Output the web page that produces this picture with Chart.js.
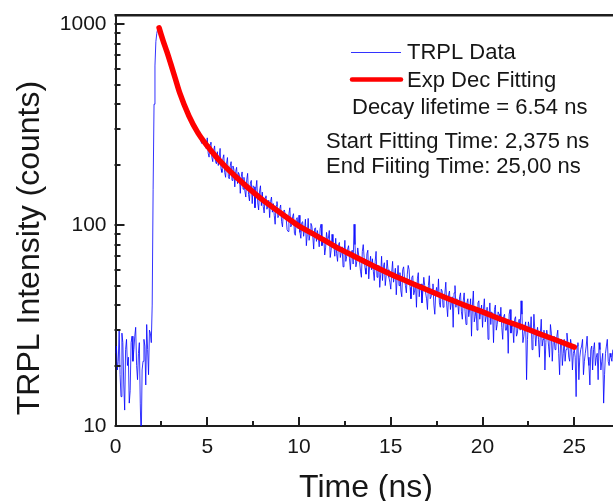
<!DOCTYPE html>
<html>
<head>
<meta charset="utf-8">
<script src="https://cdn.jsdelivr.net/npm/chart.js@4.4.1/dist/chart.umd.min.js"></script>
<style>
  html, body { margin: 0; padding: 0; background: #fff; }
  #wrap { width: 613px; height: 501px; }
</style>
</head>
<body>
<div id="wrap"><canvas id="graficaTRPL" width="613" height="501"></canvas></div>
<script>
// tiempo (ns) de cada canal
const tiempo = [
  0,0.05,0.1,0.15,0.2,0.25,0.3,0.35,0.4,0.45,0.5,0.55,0.6,0.65,0.7,0.75,0.8,0.85,0.9,0.95,
  1,1.05,1.1,1.15,1.2,1.25,1.3,1.35,1.4,1.45,1.5,1.55,1.6,1.65,1.7,1.75,1.8,1.85,1.9,1.95,
  2,2.05,2.1,2.15,2.2,2.25,2.3,2.35,2.4,2.45,2.5,2.55,2.6,2.65,2.7,2.75,2.8,2.85,2.9,2.95,
  3,3.05,3.1,3.15,3.2,3.25,3.3,3.35,3.4,3.45,3.5,3.55,3.6,3.65,3.7,3.75,3.8,3.85,3.9,3.95,
  4,4.05,4.1,4.15,4.2,4.25,4.3,4.35,4.4,4.45,4.5,4.55,4.6,4.65,4.7,4.75,4.8,4.85,4.9,4.95,
  5,5.05,5.1,5.15,5.2,5.25,5.3,5.35,5.4,5.45,5.5,5.55,5.6,5.65,5.7,5.75,5.8,5.85,5.9,5.95,
  6,6.05,6.1,6.15,6.2,6.25,6.3,6.35,6.4,6.45,6.5,6.55,6.6,6.65,6.7,6.75,6.8,6.85,6.9,6.95,
  7,7.05,7.1,7.15,7.2,7.25,7.3,7.35,7.4,7.45,7.5,7.55,7.6,7.65,7.7,7.75,7.8,7.85,7.9,7.95,
  8,8.05,8.1,8.15,8.2,8.25,8.3,8.35,8.4,8.45,8.5,8.55,8.6,8.65,8.7,8.75,8.8,8.85,8.9,8.95,
  9,9.05,9.1,9.15,9.2,9.25,9.3,9.35,9.4,9.45,9.5,9.55,9.6,9.65,9.7,9.75,9.8,9.85,9.9,9.95,
  10,10.05,10.1,10.15,10.2,10.25,10.3,10.35,10.4,10.45,10.5,10.55,10.6,10.65,10.7,10.75,10.8,10.85,10.9,10.95,
  11,11.05,11.1,11.15,11.2,11.25,11.3,11.35,11.4,11.45,11.5,11.55,11.6,11.65,11.7,11.75,11.8,11.85,11.9,11.95,
  12,12.05,12.1,12.15,12.2,12.25,12.3,12.35,12.4,12.45,12.5,12.55,12.6,12.65,12.7,12.75,12.8,12.85,12.9,12.95,
  13,13.05,13.1,13.15,13.2,13.25,13.3,13.35,13.4,13.45,13.5,13.55,13.6,13.65,13.7,13.75,13.8,13.85,13.9,13.95,
  14,14.05,14.1,14.15,14.2,14.25,14.3,14.35,14.4,14.45,14.5,14.55,14.6,14.65,14.7,14.75,14.8,14.85,14.9,14.95,
  15,15.05,15.1,15.15,15.2,15.25,15.3,15.35,15.4,15.45,15.5,15.55,15.6,15.65,15.7,15.75,15.8,15.85,15.9,15.95,
  16,16.05,16.1,16.15,16.2,16.25,16.3,16.35,16.4,16.45,16.5,16.55,16.6,16.65,16.7,16.75,16.8,16.85,16.9,16.95,
  17,17.05,17.1,17.15,17.2,17.25,17.3,17.35,17.4,17.45,17.5,17.55,17.6,17.65,17.7,17.75,17.8,17.85,17.9,17.95,
  18,18.05,18.1,18.15,18.2,18.25,18.3,18.35,18.4,18.45,18.5,18.55,18.6,18.65,18.7,18.75,18.8,18.85,18.9,18.95,
  19,19.05,19.1,19.15,19.2,19.25,19.3,19.35,19.4,19.45,19.5,19.55,19.6,19.65,19.7,19.75,19.8,19.85,19.9,19.95,
  20,20.05,20.1,20.15,20.2,20.25,20.3,20.35,20.4,20.45,20.5,20.55,20.6,20.65,20.7,20.75,20.8,20.85,20.9,20.95,
  21,21.05,21.1,21.15,21.2,21.25,21.3,21.35,21.4,21.45,21.5,21.55,21.6,21.65,21.7,21.75,21.8,21.85,21.9,21.95,
  22,22.05,22.1,22.15,22.2,22.25,22.3,22.35,22.4,22.45,22.5,22.55,22.6,22.65,22.7,22.75,22.8,22.85,22.9,22.95,
  23,23.05,23.1,23.15,23.2,23.25,23.3,23.35,23.4,23.45,23.5,23.55,23.6,23.65,23.7,23.75,23.8,23.85,23.9,23.95,
  24,24.05,24.1,24.15,24.2,24.25,24.3,24.35,24.4,24.45,24.5,24.55,24.6,24.65,24.7,24.75,24.8,24.85,24.9,24.95,
  25,25.05,25.1,25.15,25.2,25.25,25.3,25.35,25.4,25.45,25.5,25.55,25.6,25.65,25.7,25.75,25.8,25.85,25.9,25.95,
  26,26.05,26.1,26.15,26.2,26.25,26.3,26.35,26.4,26.45,26.5,26.55,26.6,26.65,26.7,26.75,26.8,26.85,26.9,26.95,
  27,27.05,27.1
];
// cuentas TRPL
const intensidad = [
  23,25,19,21,30,18,14,29,26,16,12,24,27,20,22,13,15,26,28,21,
  24,28,31,20,17,23,26,13,8,19,21,27,25,16,32,24,18,30,29,26,
  40,150,400,620,820,900,950,960,930,905,885,860,832,800,768,752,740,705,680,668,
  650,608,592,565,569,553,521,497,500,489,472,440,430,436,422,392,398,389,365,352,
  363,349,330,318,336,327,300,296,309,282,282,290,292,262,255,276,273,249,246,240,
  272,228,218,253,259,218,207,236,248,207,202,232,198,218,241,190,183,214,224,183,
  173,203,217,174,170,197,207,167,197,190,155,185,194,161,183,178,144,174,184,151,
  173,148,138,168,181,142,132,162,167,128,157,155,122,152,167,129,119,148,157,125,
  146,124,115,137,140,120,124,133,109,131,138,116,128,112,101,125,131,109,112,121,
  126,104,98,117,119,113,108,95,93,114,122,98,100,110,114,91,89,107,109,96,
  112,92,86,103,104,88,95,107,79,90,108,84,90,102,99,88,76,96,97,83,
  94,88,78,96,101,79,83,87,71,77,92,84,86,94,69,75,90,82,80,70,
  86,72,66,80,82,69,73,78,62,71,84,66,70,76,79,68,60,73,75,64,
  101,80,62,66,77,71,66,59,55,74,80,69,61,57,72,75,54,63,70,60,
  68,59,53,66,74,55,58,63,49,57,70,53,62,65,50,56,67,60,55,52,
  48,58,66,52,56,61,45,55,63,50,58,47,44,60,62,54,50,46,57,63,
  60,49,43,55,56,45,47,52,39,54,58,44,50,51,41,47,55,50,46,43,
  38,50,56,43,44,48,51,40,36,46,49,44,54,41,39,48,47,39,42,46,
  52,40,35,45,47,38,41,44,31,46,50,39,43,41,36,44,46,37,34,42,
  46,37,32,41,43,35,38,43,28,40,47,33,35,39,30,41,42,34,37,40,
  31,38,43,33,35,39,27,35,41,32,37,36,26,38,40,30,32,37,36,33,
  39,31,27,35,36,30,30,34,23,36,38,29,33,31,26,34,35,28,29,33,
  34,30,42,36,26,28,31,33,17,27,33,31,29,35,24,27,36,30,25,29,
  31,27,22,29,34,25,27,30,19,26,30,28,25,22,32,29,21,26,28,24,
  25,28,30,23,18,26,27,20,23,27,21,24,29,26,22,21,27,25,19,23,
  24,22,14,25,26,17,22,24,25,27,18,21,23,25,28,22,20,16,24,25,
  19,24,26,20,22,23,17,26,24,19,21,23,13,18,23,25,27,21,20,23,
  22,21,24
];
// curva de ajuste exponencial (de 2,375 ns a 25 ns)
const ajusteX = [2.375,2.5,2.6,2.8,3,3.25,3.5,4,4.5,5,5.5,6,6.5,7,7.5,8,9,10,11,12,13,14,15,16,17,18,19,20,21,22,23,24,25];
const ajusteY = [960,880,825,730,640,540,455,350,287,248,218,195,176,160,146,134,115,99,88,78,70,63,57,52,47.5,43.5,40,37,34,31.5,29,26.8,24.7];

const xTicks = [0,5,10,15,20,25];
const xMinor = [2.5,7.5,12.5,17.5,22.5];
const yTicks = [10,100,1000];
const yMinor = [20,30,40,50,60,70,80,90,200,300,400,500,600,700,800,900];

const notas = ["Decay lifetime = 6.54 ns", "Start Fitting Time: 2,375 ns", "End Fiiting Time: 25,00 ns"];

const fuente = "'Liberation Sans', Arial, sans-serif";
const tinta = "#161616";

const marcas = {
  id: "marcas",
  afterDraw(chart) {
    const c = chart.ctx;
    const a = chart.chartArea;
    const sx = chart.scales.x, sy = chart.scales.y;
    c.save();
    c.fillStyle = "#1e1e1e";
    // marco superior
    c.fillRect(a.left - 1, a.top - 1, a.right - a.left + 1, 2.5);
    // ticks hacia adentro
    yTicks.forEach(v => { const p = Math.round(sy.getPixelForValue(v)); c.fillRect(a.left - 1, p - 1, 10, 2); });
    yMinor.forEach(v => { const p = Math.round(sy.getPixelForValue(v)); c.fillRect(a.left - 1, p - 1, 6, 2); });
    xTicks.forEach(v => { const p = Math.round(sx.getPixelForValue(v)); c.fillRect(p - 1, a.bottom - 9, 2, 10); });
    xMinor.forEach(v => { const p = Math.round(sx.getPixelForValue(v)); c.fillRect(p - 1, a.bottom - 5, 2, 6); });

    // leyenda
    const ds = chart.data.datasets;
    c.strokeStyle = ds[1].borderColor; c.lineWidth = 1; c.lineCap = "butt";
    c.beginPath(); c.moveTo(351, 52.5); c.lineTo(401, 52.5); c.stroke();
    c.strokeStyle = ds[0].borderColor; c.lineWidth = 4.5; c.lineCap = "round";
    c.beginPath(); c.moveTo(352, 79.5); c.lineTo(401, 79.5); c.stroke();

    c.fillStyle = tinta;
    c.font = "22px " + fuente;
    c.textBaseline = "middle";
    c.textAlign = "left";
    c.fillText(ds[1].label, 407, 53);
    c.fillText(ds[0].label, 407, 81);
    c.fillText(notas[0], 352, 108);
    c.fillText(notas[1], 326, 142);
    c.fillText(notas[2], 326, 167);

    // titulos de ejes
    c.font = "32px " + fuente;
    c.textAlign = "center";
    c.fillText("Time (ns)", 366, 488);
    c.translate(30, 248);
    c.rotate(-Math.PI / 2);
    c.fillText("TRPL Intensity (counts)", 0, 0);
    c.restore();
  }
};

const ctx = document.getElementById("graficaTRPL").getContext("2d");
const grafica = new Chart(ctx, {
  type: "line",
  data: {
    datasets: [
      {
        label: "Exp Dec Fitting",
        data: ajusteX.map((t, i) => ({ x: t, y: ajusteY[i] })),
        borderColor: "#ff0000",
        borderWidth: 5.5,
        borderCapStyle: "round",
        pointRadius: 0,
        cubicInterpolationMode: "monotone",
        order: 0
      },
      {
        label: "TRPL Data",
        data: tiempo.map((t, i) => ({ x: t, y: intensidad[i] })),
        borderColor: "rgba(0,0,255,0.8)",
        borderWidth: 1,
        pointRadius: 0,
        tension: 0,
        order: 1
      }
    ]
  },
  options: {
    responsive: false,
    animation: false,
    layout: { padding: { top: 15, right: 0, left: 0, bottom: 0 } },
    plugins: { legend: { display: false }, tooltip: { enabled: false } },
    scales: {
      x: {
        type: "linear",
        min: 0,
        max: 27.11,
        afterFit: s => { s.height = 75; s.paddingLeft = 0; s.paddingRight = 0; },
        afterBuildTicks: s => { s.ticks = xTicks.map(v => ({ value: v })); },
        grid: { display: false, drawTicks: false },
        border: { display: true, color: "#1e1e1e", width: 2 },
        ticks: { padding: 9, color: tinta, font: { family: fuente, size: 21 }, maxRotation: 0, callback: v => String(v) }
      },
      y: {
        type: "logarithmic",
        min: 10,
        max: 1112,
        afterFit: s => { s.width = 115.5; s.paddingTop = 0; s.paddingBottom = 0; },
        afterBuildTicks: s => { s.ticks = yTicks.map(v => ({ value: v })); },
        grid: { display: false, drawTicks: false },
        border: { display: true, color: "#1e1e1e", width: 2 },
        ticks: { padding: 9, color: tinta, font: { family: fuente, size: 21 }, callback: v => String(v) }
      }
    }
  },
  plugins: [marcas]
});
</script>
</body>
</html>
